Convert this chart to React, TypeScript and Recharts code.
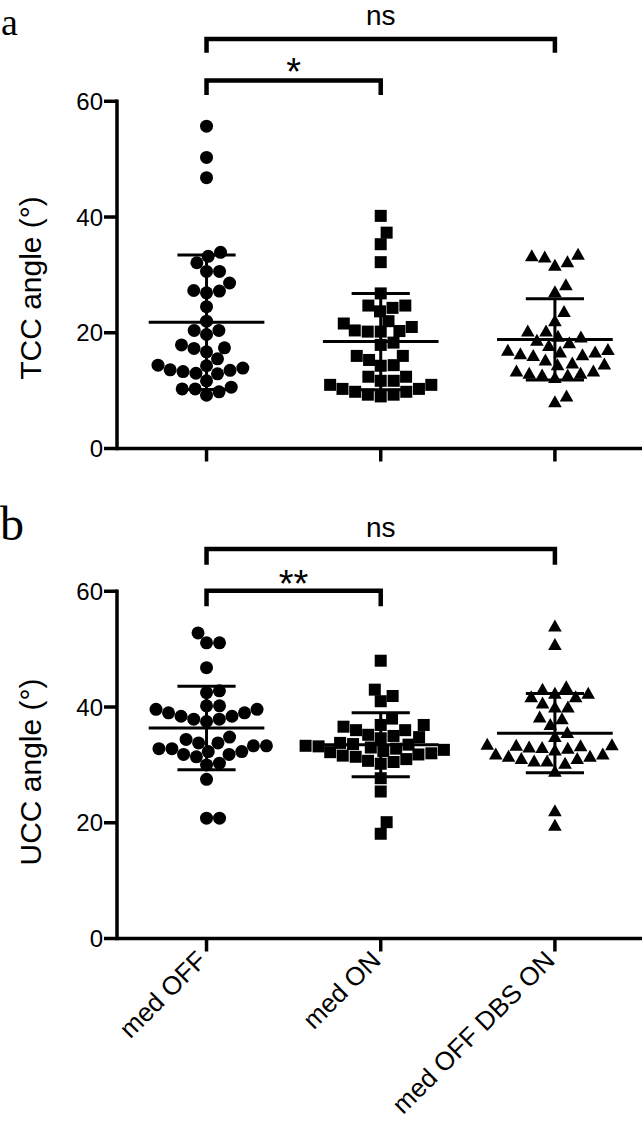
import React from 'react';
import { ScatterChart, Scatter, XAxis, YAxis, ReferenceLine, ReferenceDot } from 'recharts';

// ---------------- data ----------------
const groups = ['med OFF', 'med ON', 'med OFF DBS ON'];
const yTicks = [0, 20, 40, 60];

const tccMedOff = [55.7, 50.3, 46.8, 33.9, 33.2, 32.1, 30.6, 30.6, 28.6, 27.2, 26.9, 27.3, 24.5, 22.0, 19.7, 20.4, 20.4, 17.4, 16.7, 17.3, 17.9, 15.5, 14.4, 13.9, 13.5, 13.0, 12.9, 13.3, 13.6, 14.3, 11.7, 10.6, 10.3, 9.2, 9.8, 10.3];
const tccMedOn = [40.2, 37.3, 35.3, 32.2, 26.8, 24.7, 24.3, 23.7, 24.7, 21.6, 20.4, 20.2, 20.2, 20.3, 21.0, 22.0, 17.9, 18.3, 16.0, 14.4, 14.3, 15.3, 16.0, 12.4, 11.7, 11.0, 10.3, 9.8, 9.3, 9.0, 9.3, 9.8, 10.3, 11.0, 11.7, 12.4];
const tccDbsOn = [33.2, 32.2, 31.6, 33.0, 33.5, 27.0, 28.2, 23.6, 22.0, 20.2, 19.2, 19.3, 20.2, 18.2, 18.6, 17.7, 17.0, 16.6, 16.3, 16.0, 16.1, 16.6, 16.9, 14.7, 14.4, 15.2, 14.5, 13.3, 12.9, 12.6, 12.2, 12.6, 12.9, 13.3, 8.0, 9.0];

const uccMedOff = [52.8, 51.1, 51.1, 46.8, 42.5, 42.8, 40.2, 39.6, 39.0, 38.4, 37.9, 37.5, 37.9, 38.4, 39.0, 39.6, 40.2, 34.4, 34.8, 33.8, 33.3, 32.8, 32.3, 31.8, 31.4, 31.8, 32.3, 32.8, 33.3, 33.8, 30.0, 30.3, 27.5, 20.8, 20.8];
const uccMedOn = [48.0, 43.0, 41.9, 41.0, 36.0, 36.9, 36.6, 36.9, 38.0, 36.0, 34.8, 35.2, 34.6, 35.0, 33.6, 33.3, 33.0, 32.8, 33.2, 33.5, 33.8, 32.4, 32.0, 31.6, 31.4, 31.8, 32.2, 32.6, 31.0, 30.5, 30.2, 30.7, 27.7, 25.4, 20.1, 18.1];
const uccDbsOn = [53.9, 50.7, 43.4, 42.3, 41.7, 40.6, 41.7, 42.3, 43.0, 39.9, 39.9, 37.9, 38.2, 36.9, 34.8, 35.5, 33.5, 33.0, 33.3, 32.8, 32.5, 32.9, 33.2, 33.4, 31.8, 31.4, 31.0, 30.6, 30.2, 30.6, 31.0, 31.4, 31.8, 28.8, 22.0, 19.5];

// significance brackets: [fromGroup, toGroup, barY, legY]
const bracketsA = [[0, 2, 70.75, 68.4], [0, 1, 63.6, 61.1]];
const bracketTextA = ['ns', '*'];
const bracketTextYA = [74.5, 66.57];
const bracketsB = [[0, 2, 67.3, 64.6], [0, 1, 60.1, 57.4]];
const bracketTextB = ['ns', '**'];
const bracketTextYB = [70.6, 62.85];

// ---------------- layout ----------------
const FONT = '"Liberation Sans", Arial, Helvetica, sans-serif';
const SERIF = '"Liberation Serif", "Times New Roman", serif';
const CHART_W = 644;
const Y_AXIS_W = 117;
const MARGIN_R = 2;
const PLOT_H = 448.5;
const X_DOMAIN: [number, number] = [-0.514, 2.5];
const Y_DOMAIN: [number, number] = [0, 77.5];
const PX_X = (CHART_W - Y_AXIS_W - MARGIN_R) / (X_DOMAIN[1] - X_DOMAIN[0]);
const PX_Y = PLOT_H / (Y_DOMAIN[1] - Y_DOMAIN[0]);
const SWARM_D = 13;

function swarm(values: number[], diam: number): number[] {
  const idx = values.map((_, i) => i).sort((a, b) => values[a] - values[b]);
  const placed: { x: number; y: number }[] = [];
  const offs = new Array(values.length).fill(0);
  for (const i of idx) {
    const y = values[i] * PX_Y;
    const cands = [0];
    for (const p of placed) {
      const dy = Math.abs(y - p.y);
      if (dy < diam) {
        const dx = Math.sqrt(diam * diam - dy * dy);
        cands.push(p.x + dx, p.x - dx);
      }
    }
    cands.sort((a, b) => Math.abs(a) - Math.abs(b));
    let chosen = 0;
    for (const c of cands) {
      if (placed.every((p) => (c - p.x) ** 2 + (y - p.y) ** 2 >= diam * diam - 1e-6)) {
        chosen = c;
        break;
      }
    }
    placed.push({ x: chosen, y });
    offs[i] = chosen / PX_X;
  }
  return offs;
}

function stats(v: number[]) {
  const n = v.length;
  const mean = v.reduce((s, x) => s + x, 0) / n;
  const sd = Math.sqrt(v.reduce((s, x) => s + (x - mean) ** 2, 0) / (n - 1));
  return { mean, sd };
}

const CircleShape = (p: any) => <circle cx={p.cx} cy={p.cy} r={6.5} fill="#000" />;
const SquareShape = (p: any) => <rect x={p.cx - 6} y={p.cy - 6} width={12} height={12} fill="#000" />;
const TriangleShape = (p: any) => (
  <polygon points={`${p.cx},${p.cy - 7} ${p.cx + 6.8},${p.cy + 5} ${p.cx - 6.8},${p.cy + 5}`} fill="#000" />
);
const shapes = [CircleShape, SquareShape, TriangleShape];
const NoShape = () => <g />;

const XTickLabel = (props: any) => {
  const { x, y, payload } = props;
  return (
    <g transform={`translate(${x - 5},${y + 2})`}>
      <text x={0} y={0} dy="0.35em" textAnchor="end" transform="rotate(-45)" fontSize={26} fontFamily={FONT} fill="#000">
        {groups[payload.value]}
      </text>
    </g>
  );
};
const EmptyTick = () => <g />;

type PanelProps = {
  series: number[][];
  yLabel: string;
  yLabelY: number;
  height: number;
  showXLabels: boolean;
  brackets: number[][];
  bracketText: string[];
  bracketTextY: number[];
};

function Panel({ series, yLabel, yLabelY, height, showXLabels, brackets, bracketText, bracketTextY }: PanelProps) {
  const xAxisH = height - PLOT_H;
  const MEAN_HW = 0.332;
  const CAP_HW = 0.167;
  return (
    <ScatterChart width={CHART_W} height={height} margin={{ top: 0, right: MARGIN_R, bottom: 0, left: 0 }}>
      <XAxis
        type="number"
        dataKey="x"
        domain={X_DOMAIN}
        allowDataOverflow
        ticks={[0, 1, 2]}
        height={xAxisH}
        axisLine={{ stroke: '#000', strokeWidth: 3.5 }}
        tickLine={{ stroke: '#000', strokeWidth: 3.5 }}
        tickSize={13}
        tick={showXLabels ? <XTickLabel /> : <EmptyTick />}
        interval={0}
      />
      <YAxis
        type="number"
        dataKey="y"
        domain={Y_DOMAIN}
        allowDataOverflow
        ticks={yTicks}
        width={Y_AXIS_W}
        axisLine={false}
        tickLine={{ stroke: '#000', strokeWidth: 3.5 }}
        tickSize={13}
        tickMargin={1}
        tick={{ fill: '#000', fontSize: 24, fontFamily: FONT }}
        label={{
          content: () => (
            <text
              x={30}
              y={yLabelY}
              transform={`rotate(-90 30 ${yLabelY})`}
              textAnchor="middle"
              dominantBaseline="central"
              fontSize={30}
              fontFamily={FONT}
              fill="#000"
            >
              {yLabel}
            </text>
          ),
        }}
      />
      <ReferenceLine
        segment={[{ x: X_DOMAIN[0], y: 0 }, { x: X_DOMAIN[0], y: yTicks[yTicks.length - 1] }]}
        stroke="#000"
        strokeWidth={3.5}
        strokeLinecap="square"
      />
      {series.map((vals, gi) => {
        const offs = swarm(vals, SWARM_D);
        const data = vals.map((v, i) => ({ x: gi + offs[i], y: v }));
        return <Scatter key={`s${gi}`} data={data} shape={shapes[gi]} isAnimationActive={false} />;
      })}
      {series.map((vals, gi) => {
        const { mean, sd } = stats(vals);
        return (
          <React.Fragment key={`e${gi}`}>
            <ReferenceLine segment={[{ x: gi - MEAN_HW, y: mean }, { x: gi + MEAN_HW, y: mean }]} stroke="#000" strokeWidth={3} />
            <ReferenceLine segment={[{ x: gi, y: mean - sd }, { x: gi, y: mean + sd }]} stroke="#000" strokeWidth={3} />
            <ReferenceLine segment={[{ x: gi - CAP_HW, y: mean + sd }, { x: gi + CAP_HW, y: mean + sd }]} stroke="#000" strokeWidth={3} />
            <ReferenceLine segment={[{ x: gi - CAP_HW, y: mean - sd }, { x: gi + CAP_HW, y: mean - sd }]} stroke="#000" strokeWidth={3} />
          </React.Fragment>
        );
      })}
      {brackets.map((b, bi) => (
        <Scatter
          key={`b${bi}`}
          data={[
            { x: b[0], y: b[3] },
            { x: b[0], y: b[2] },
            { x: b[1], y: b[2] },
            { x: b[1], y: b[3] },
          ]}
          line={{ stroke: '#000', strokeWidth: 4.5, strokeLinejoin: 'miter' }}
          shape={NoShape}
          isAnimationActive={false}
        />
      ))}
      {brackets.map((b, bi) => {
        const t = bracketText[bi];
        const isStar = t.indexOf('*') >= 0;
        return (
          <ReferenceDot
            key={`t${bi}`}
            x={(b[0] + b[1]) / 2}
            y={bracketTextY[bi]}
            r={0}
            shape={(p: any) => (
              <text
                x={p.cx}
                y={p.cy}
                dy={isStar ? '0.58em' : '0.26em'}
                textAnchor="middle"
                fontSize={isStar ? 38 : 28}
                fontFamily={FONT}
                fill="#000"
              >
                {t}
              </text>
            )}
          />
        );
      })}
    </ScatterChart>
  );
}

export default function App() {
  return (
    <div style={{ position: 'absolute', left: 0, top: 0, width: 644, height: 1128, background: '#fff' }}>
      <style>{'body{margin:0;background:#fff}'}</style>
      <div style={{ position: 'absolute', left: 0, top: 490 }}>
        <Panel
          series={[uccMedOff, uccMedOn, uccDbsOn]}
          yLabel="UCC angle (°)"
          yLabelY={282}
          height={638}
          showXLabels={true}
          brackets={bracketsB}
          bracketText={bracketTextB}
          bracketTextY={bracketTextYB}
        />
      </div>
      <div style={{ position: 'absolute', left: 0, top: 0 }}>
        <Panel
          series={[tccMedOff, tccMedOn, tccDbsOn]}
          yLabel="TCC angle (°)"
          yLabelY={288}
          height={490}
          showXLabels={false}
          brackets={bracketsA}
          bracketText={bracketTextA}
          bracketTextY={bracketTextYA}
        />
      </div>
      <div style={{ position: 'absolute', left: 1, top: 1, fontFamily: SERIF, fontSize: 38, lineHeight: 1.107 }}>a</div>
      <div style={{ position: 'absolute', left: 0, top: 512, height: 24, fontFamily: SERIF, fontSize: 48, lineHeight: '24px' }}>b</div>
    </div>
  );
}
